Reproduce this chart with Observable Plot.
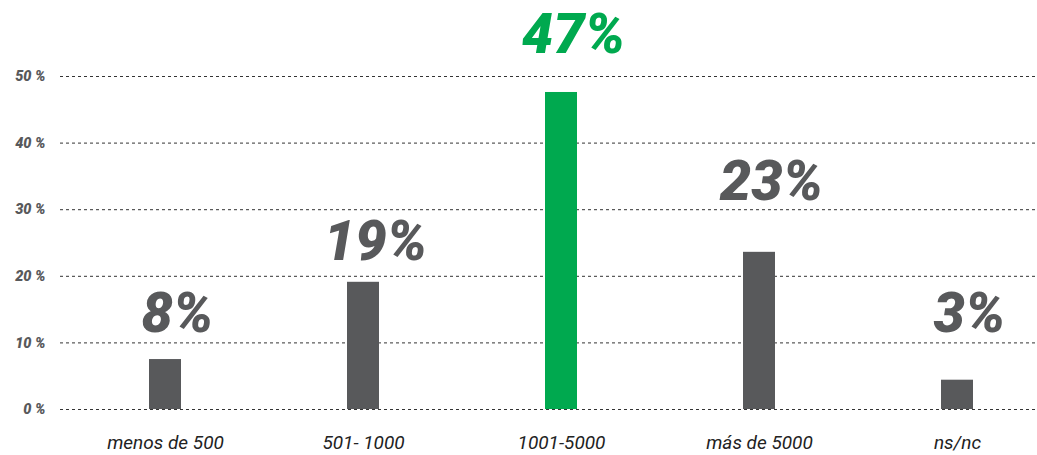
<!DOCTYPE html>
<html>
<head>
<meta charset="utf-8">
<script src="https://cdn.jsdelivr.net/npm/d3@7"></script>
<script src="https://cdn.jsdelivr.net/npm/@observablehq/plot@0.6"></script>
<style>
  html, body { margin: 0; padding: 0; background: #fff; }
  svg { display: block; }
</style>
</head>
<body>
<div id="chart"></div>
<script>
const categories = ["menos de 500", "501- 1000", "1001-5000", "más de 5000", "ns/nc"];
const values = [7.5, 19.1, 47.6, 23.6, 4.4];
const labels = ["8%", "19%", "47%", "23%", "3%"];
const labelLevels = [11.6, 22.4, 53.6, 31.4, 11.6];
const highlight = [false, false, true, false, false];
const yTicks = [0, 10, 20, 30, 40, 50];

const data = categories.map((c, i) => ({
  cat: c, value: values[i], label: labels[i], level: labelLevels[i], hi: highlight[i]
}));

const gray = "#58595b";
const green = "#00a94f";

const chart = Plot.plot({
  width: 1037,
  height: 455,
  marginLeft: 60,
  marginRight: 2,
  marginTop: 76,
  marginBottom: 46,
  style: { fontFamily: "Roboto, 'Liberation Sans', sans-serif", background: "#fff" },
  x: { domain: categories, range: [60, 1062], paddingInner: 0.838, paddingOuter: 0.449, label: null },
  y: { domain: [0, 50], label: null },
  marks: [
    Plot.ruleY(yTicks, { stroke: "#333", strokeWidth: 1, strokeDasharray: "3,3" }),
    Plot.barY(data, { x: "cat", y: "value", fill: d => d.hi ? green : gray }),
    Plot.text(data, {
      x: "cat", y: "level", text: "label", lineAnchor: "bottom", dx: 12,
      fill: d => d.hi ? green : gray,
      fontSize: 56, fontWeight: 900, fontStyle: "italic"
    }),
    Plot.axisY({
      ticks: yTicks, tickSize: 0, tickPadding: 15, tickFormat: d => d + " %",
      fontSize: 14.5, fontWeight: 900, fontStyle: "italic", fill: gray
    }),
    Plot.axisX({
      tickSize: 0, tickPadding: 26, fontSize: 19, fontStyle: "italic", fill: "#222"
    })
  ]
});
document.getElementById("chart").appendChild(chart);
</script>
</body>
</html>
